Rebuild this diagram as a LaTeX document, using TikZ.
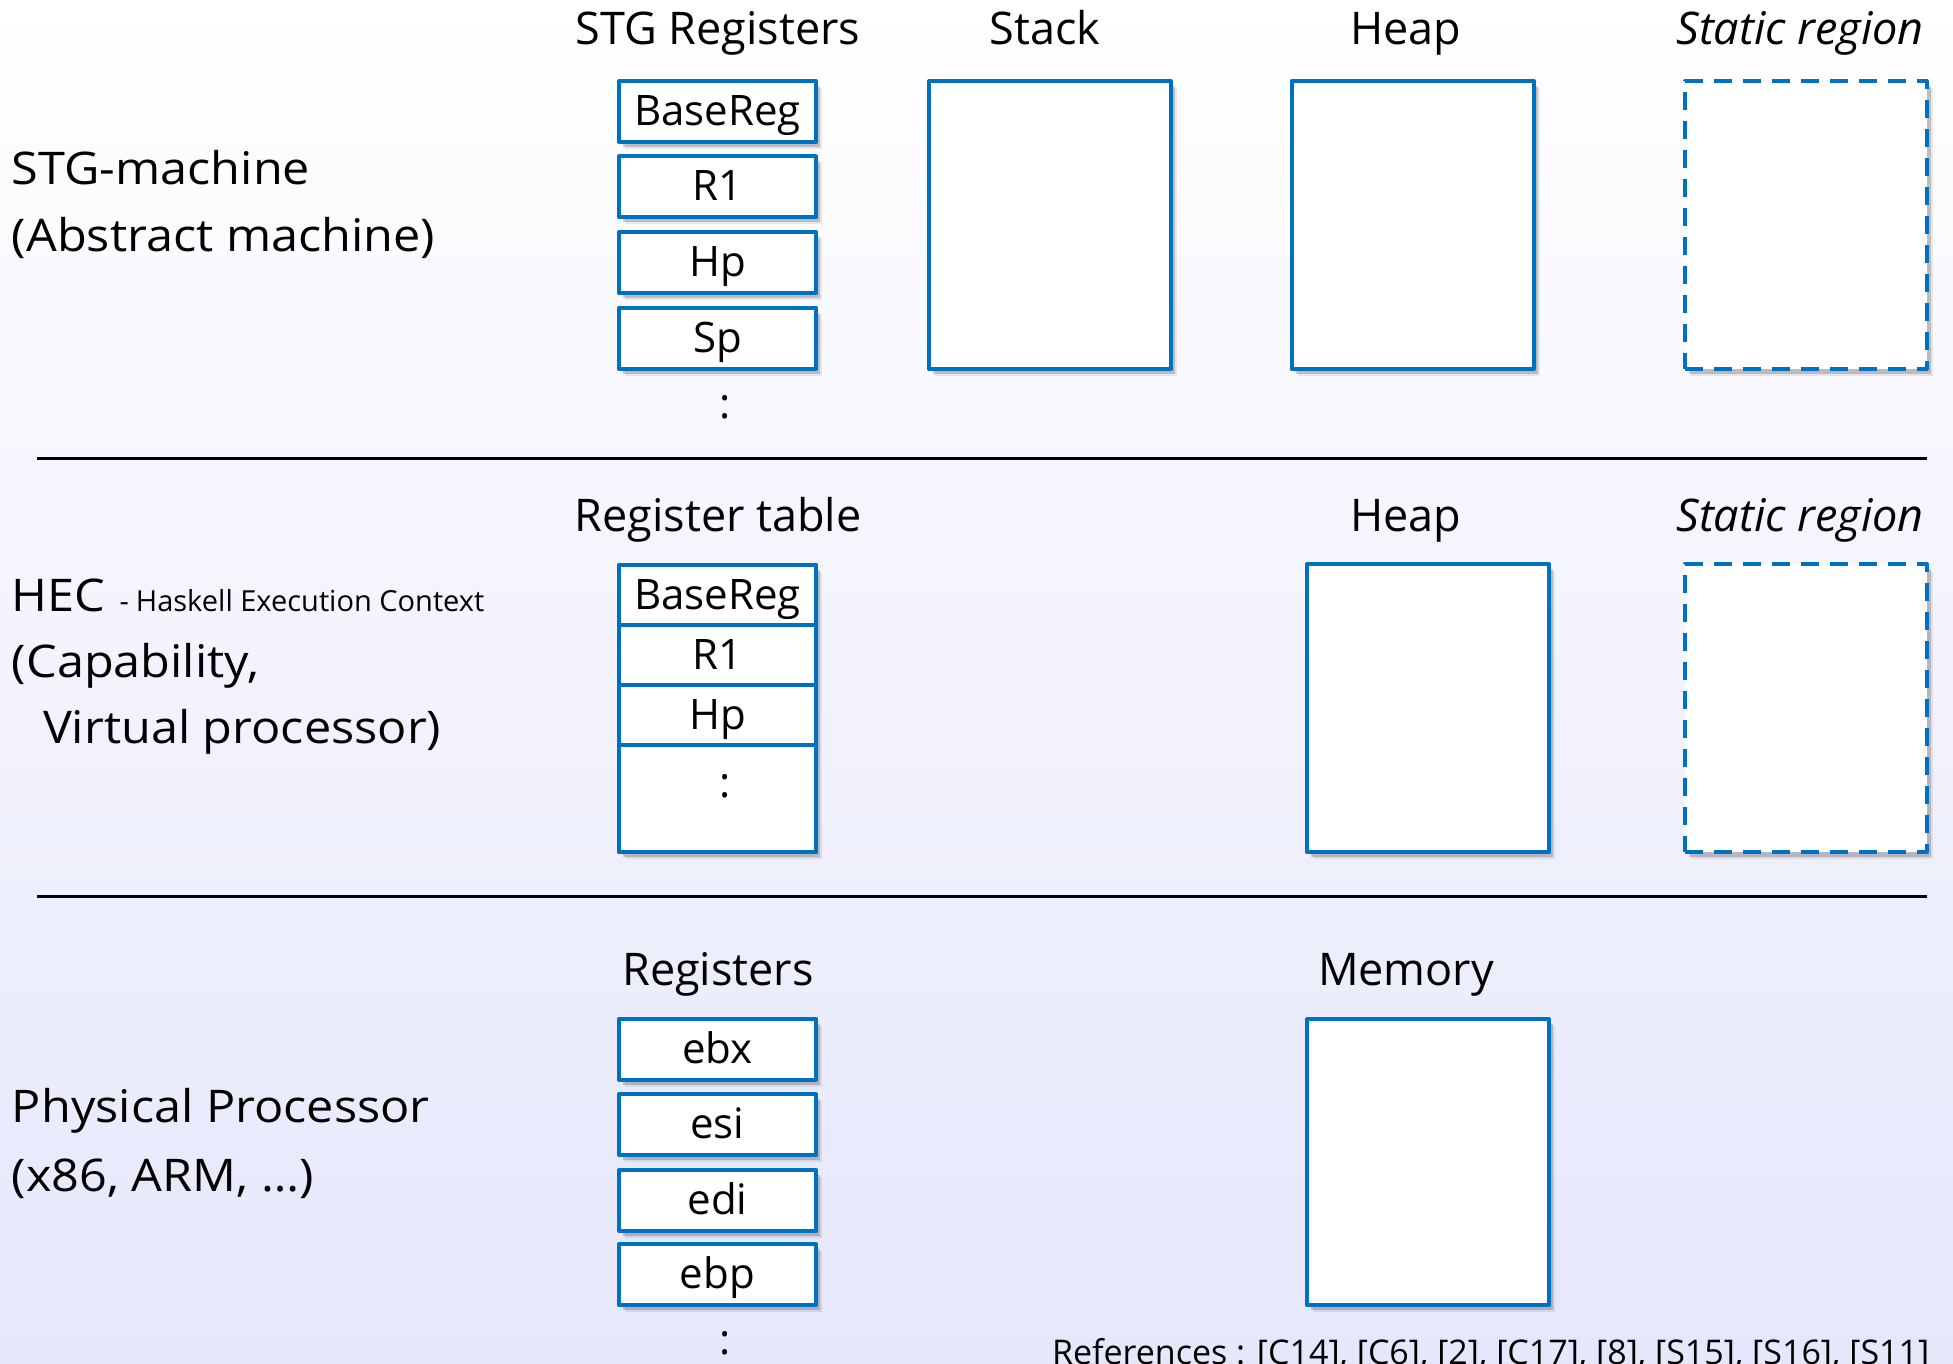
\documentclass[tikz,border=0pt]{standalone}
\usepackage{fontspec}
\setmainfont{Open Sans}
\newfontfamily\widefont[FakeStretch=1.08]{Open Sans}
\usetikzlibrary{shadows}

\definecolor{boxblue}{RGB}{0,112,192}
\definecolor{bgtop}{RGB}{255,255,255}
\definecolor{bgbot}{RGB}{229,231,251}

\begin{document}
\begin{tikzpicture}[x=1pt,y=-1pt,
  every node/.style={inner sep=0pt, outer sep=0pt},
  bigtext/.style={font=\fontsize{45}{54}\selectfont},
  title/.style={bigtext, anchor=base},
  ititle/.style={title, font=\fontsize{45}{54}\selectfont\itshape},
  side/.style={font=\widefont\fontsize{45}{54}\selectfont, anchor=base west},
  softshadow/.style={
    general shadow={fill=black, opacity=.08, shadow xshift=6pt, shadow yshift=-7pt},
    general shadow={fill=black, opacity=.18, shadow xshift=4pt, shadow yshift=-5pt}},
  boxline/.style={draw=boxblue, line width=4pt, line join=round, fill=white},
  regbox/.style={boxline, softshadow, minimum width=197pt, minimum height=61pt,
    font=\fontsize{42}{50}\selectfont, text height=28pt, text depth=0pt},
  rowcell/.style={boxline, minimum width=197pt,
    font=\fontsize{42}{50}\selectfont, text height=28pt, text depth=0pt},
  area/.style={boxline, softshadow, minimum width=242pt, minimum height=288pt},
  dasharea/.style={area, dash pattern=on 18pt off 11pt},
  dots/.style={font=\fontsize{42}{50}\selectfont, anchor=base},
  rule/.style={line width=3pt}
]
\useasboundingbox (0,0) rectangle (1953,1364);
\shade[top color=bgtop, bottom color=bgbot] (0,0) rectangle (1953,1364);

% ---------- STG-machine ----------
\node[side] (stgname) at (12,185) {STG-machine};
\node[side] (stgsub) at (12,252) {(Abstract machine)};

\node[title] (stgregs) at (718,45) {STG Registers};
\node[title] (stacktitle) at (1045,45) {Stack};
\node[title] (heaptitle) at (1406,45) {Heap};
\node[ititle] (statictitle) at (1800,45) {Static region};

\node[regbox] (sbase) at (717.5,111.5) {BaseReg};
\node[regbox] (sr1) at (717.5,187) {R1};
\node[regbox] (shp) at (717.5,262.5) {Hp};
\node[regbox] (ssp) at (717.5,338) {Sp};
\node[dots] (smore) at (725,418) {:};

\node[area] (stack) at (1050,225) {};
\node[area] (heap) at (1412.5,225) {};
\node[dasharea] (static) at (1805.5,225) {};

\coordinate (sepa1) at (37,458);
\coordinate (sepa2) at (1927,458);
\draw[rule] (sepa1) -- (sepa2);

% ---------- HEC ----------
\node[side] (hecname) at (12,611)
  {HEC\hspace{14pt}{\rmfamily\fontsize{29}{34}\selectfont -\hspace{7pt}Haskell Execution Context}};
\node[side] (hecsub1) at (12,677) {(Capability,};
\node[side] (hecsub2) at (43,743) {Virtual processor)};

\node[title] (regtabtitle) at (718,531) {Register table};
\node[title] (heaptitle2) at (1406,531) {Heap};
\node[ititle] (statictitle2) at (1800,531) {Static region};

\node[boxline, softshadow, minimum width=197pt, minimum height=287pt] (regtable) at (717.5,708.5) {};
\node[rowcell, minimum height=60pt] (tbase) at (717.5,595) {BaseReg};
\node[rowcell, minimum height=60pt] (tr1) at (717.5,655) {R1};
\node[rowcell, minimum height=60pt] (thp) at (717.5,715) {Hp};
\node[rowcell, minimum height=107pt] (tmore) at (717.5,798.5) {};
\node[dots] (tdots) at (725,797) {:};

\node[area] (heap2) at (1428,708) {};
\node[dasharea] (static2) at (1805.5,708) {};

\coordinate (sepb1) at (37,896);
\coordinate (sepb2) at (1927,896);
\draw[rule] (sepb1) -- (sepb2);

% ---------- Physical processor ----------
\node[side] (physname) at (12,1122) {Physical Processor};
\node[side] (physsub) at (12,1191) {(x86, ARM, …)};

\node[title] (regstitle) at (718,985) {Registers};
\node[title] (memtitle) at (1406,985) {Memory};

\node[regbox] (ebx) at (717.5,1049) {ebx};
\node[regbox] (esi) at (717.5,1124.5) {esi};
\node[regbox] (edi) at (717.5,1200.5) {edi};
\node[regbox] (ebp) at (717.5,1274.5) {ebp};
\node[dots] (pmore) at (725,1354) {:};

\node[area, minimum height=286pt] (memory) at (1428,1162) {};

\node[anchor=base west, font=\fontsize{34}{40}\selectfont] (refs) at (1052,1364)
  {References : [C14], [C6], [2], [C17], [8], [S15], [S16], [S11]};
\end{tikzpicture}
\end{document}
